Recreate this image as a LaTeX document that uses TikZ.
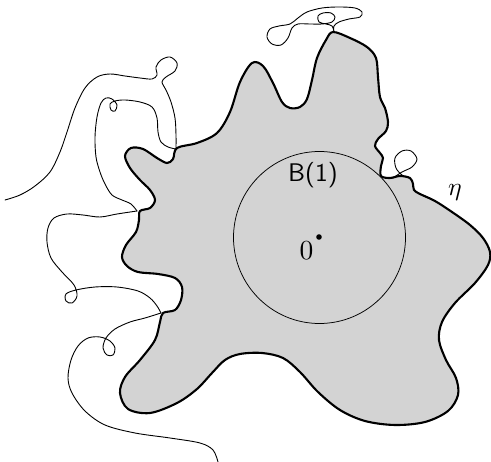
\documentclass[tikz,border=0pt]{standalone}
\usepackage{graphicx}
\definecolor{blobgray}{RGB}{211,211,211}
\tikzset{
  hull/.style={fill=blobgray, draw=black, line width=2.1pt, line join=round},
  trace/.style={draw=black, line width=0.9pt, line cap=round, line join=round},
  ballline/.style={draw=black, line width=0.75pt},
  lbl/.style={inner sep=0pt, anchor=base}
}
\begin{document}
\begin{tikzpicture}[x=1pt,y=-1pt]
\useasboundingbox (0,0) rectangle (491,462);
% the hull
\draw[hull] plot[smooth cycle, tension=0.55] coordinates {
(333,32) (350,38) (367,47) (376,58) (378,77) (380,97) (385,108) (388,122) (386,131) (378,139) (375,146) (380,153) (383,158) (381,166) (381,176) (390,178) (400,176) (410,178) (413,184) (414,190) (420,194) (435,201) (452,212) (470,225) (483,238) (490,252) (488,265) (475,283) (455,303) (442,322) (439,340) (446,360) (456,378) (458,395) (448,411) (425,422) (395,425) (365,421) (340,410) (318,392) (300,372) (283,358) (262,353) (240,354) (225,360) (212,373) (197,389) (177,403) (150,413) (128,409) (120,393) (125,377) (140,360) (155,340) (160,322) (163,313) (175,310) (181,300) (182,287) (175,278) (158,274) (138,272) (127,266) (122,257) (126,245) (136,232) (139,220) (140,211) (150,208) (155,200) (150,190) (140,180) (130,168) (125,156) (131,148) (143,149) (157,158) (167,163) (173,159) (177,148) (197,143) (217,133) (230,112) (240,82) (252,63) (263,66) (273,83) (282,102) (290,108) (300,107) (307,99) (312,80) (317,58) (326,40)};
% the ball
\draw[ballline] (319.5,237.5) circle[radius=86];
\fill (319,237) circle[radius=2.8];
\node[lbl] (ball) at (313,182) {\scalebox{2.55}{\sffamily B(1)}};
\node[lbl] (origin) at (306.5,259.5) {\scalebox{2.75}{$0$}};
\node[lbl] (eta) at (455,195.5) {\scalebox{2.55}{$\eta$}};
% excursions of the curve
\draw[trace] plot[smooth, tension=0.55] coordinates {
(5,200) (20,195) (35,186) (50,172) (60,152) (67,132) (75,108) (85,88) (97,77) (110,74) (125,76) (140,78) (152,79) (157,75) (156,67) (161,60) (170,57) (177,63) (175,71) (166,77) (162,82) (166,90) (171,102) (175,118) (176,135) (176,148)};
\draw[trace] plot[smooth, tension=0.55] coordinates {
(176,149) (168,147) (161,142) (158,132) (157,118) (152,107) (140,102) (125,100) (115,101) (110,104) (111,110) (115,111) (117,105) (112,99) (106,98) (101,103) (97,117) (95,137) (96,157) (100,172) (105,184) (112,195) (122,200) (131,204) (137,211)};
\draw[trace] plot[smooth, tension=0.55] coordinates {
(137,211) (117,214) (100,217) (83,215) (67,214) (54,218) (48,228) (47,242) (51,258) (62,272) (74,285) (77,296) (72,303) (66,301) (66,294) (76,290) (95,287) (117,287) (138,291) (150,298) (157,306) (161,313)};
\draw[trace] plot[smooth, tension=0.55] coordinates {
(161,313) (145,318) (130,322) (115,329) (106,338) (103,348) (107,355) (113,355) (115,348) (110,341) (100,337) (88,338) (78,346) (71,360) (68,378) (72,393) (85,411) (105,425) (135,433) (170,438) (200,443) (213,450) (218,462)};
\draw[trace] plot[smooth, tension=0.55] coordinates {
(334,32) (332,26) (326,24) (319,22) (318,16) (323,13) (331,13) (335,17) (332,22) (322,24) (310,24) (298,24) (292,28) (288,38) (281,45) (272,44) (267,37) (270,29) (279,26) (290,24) (298,18) (307,12) (322,8) (339,7) (355,8) (362,12) (360,17) (349,19) (339,22) (334,26) (334,32)};
\draw[trace] plot[smooth, tension=0.55] coordinates {
(393,178) (402,172) (412,167) (417,159) (411,151) (402,151) (395,158) (396,168) (402,175) (409,178)};
\end{tikzpicture}
\end{document}
